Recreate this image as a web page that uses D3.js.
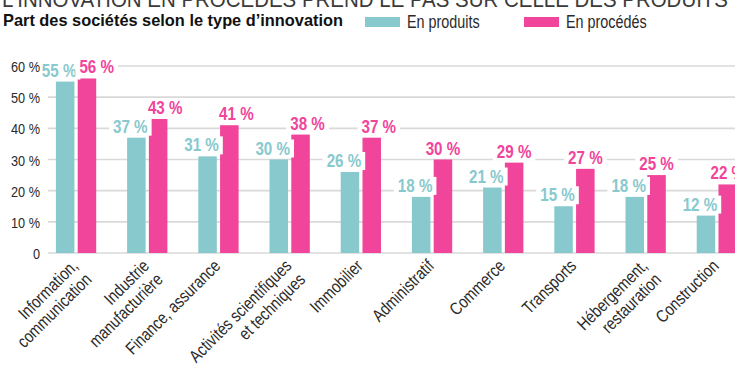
<!DOCTYPE html>
<html>
<head>
<meta charset="utf-8">
<script src="https://cdn.jsdelivr.net/npm/d3@7"></script>
<style>
  body { margin: 0; background: #fff; }
  svg { display: block; font-family: "Liberation Sans", Arial, sans-serif; }
</style>
</head>
<body>
<svg id="chart"></svg>
<script>
const categories = [
  ["Information,", "communication"],
  ["Industrie", "manufacturière"],
  ["Finance, assurance"],
  ["Activités scientifiques", "et techniques"],
  ["Immobilier"],
  ["Administratif"],
  ["Commerce"],
  ["Transports"],
  ["Hébergement,", "restauration"],
  ["Construction"]
];
const produits = [55, 37, 31, 30, 26, 18, 21, 15, 18, 12];
const procedes = [56, 43, 41, 38, 37, 30, 29, 27, 25, 22];
const yTicks = [0, 10, 20, 30, 40, 50, 60];
const seriesNames = ["En produits", "En procédés"];

const width = 735;
const height = 372;
const teal = '#88c9ce';
const pink = '#f1449b';

const svg = d3.select('#chart')
  .attr('width', width)
  .attr('height', height);

// pas de police étroite installée : on resserre le texte à la main
function condense(sel, k = 0.82) {
  sel.each(function () {
    const len = this.getComputedTextLength();
    d3.select(this)
      .attr('textLength', len * k)
      .attr('lengthAdjust', 'spacingAndGlyphs');
  });
}

// titre coupé en haut
svg.append('text')
  .attr('x', 2)
  .attr('y', 7)
  .attr('font-size', 22)
  .attr('fill', '#3a3a3a')
  .attr('textLength', 726)
  .attr('lengthAdjust', 'spacingAndGlyphs')
  .text("L'INNOVATION EN PROCÉDÉS PREND LE PAS SUR CELLE DES PRODUITS");

svg.append('text')
  .attr('x', 3)
  .attr('y', 26)
  .attr('font-size', 17)
  .attr('font-weight', 'bold')
  .attr('fill', '#111')
  .attr('textLength', 340)
  .attr('lengthAdjust', 'spacingAndGlyphs')
  .text('Part des sociétés selon le type d’innovation');

// légende
const legendX = [365, 524];
seriesNames.forEach((name, i) => {
  svg.append('rect')
    .attr('x', legendX[i])
    .attr('y', 17)
    .attr('width', 35)
    .attr('height', 10)
    .attr('fill', i === 0 ? teal : pink);
  svg.append('text')
    .attr('x', legendX[i] + 42)
    .attr('y', 27.5)
    .attr('font-size', 17.5)
    .attr('fill', '#2a2a2a')
    .text(name)
    .call(condense);
});

const yScale = d3.scaleLinear()
  .domain([0, 60])
  .range([253, 66]);

const xScale = d3.scaleBand()
  .domain(d3.range(categories.length))
  .range([40.4, 752.4]);

const inner = d3.scaleBand()
  .domain([0, 1])
  .range([15.5, 55.8])
  .paddingInner(0.15);

// grille
svg.append('g')
  .selectAll('line')
  .data(yTicks)
  .enter()
  .append('line')
  .attr('x1', 48)
  .attr('x2', width)
  .attr('y1', (d) => yScale(d))
  .attr('y2', (d) => yScale(d))
  .attr('stroke', '#d9d9d9')
  .attr('stroke-width', 1.6);

// barres
const groups = svg.selectAll('.group')
  .data(categories)
  .enter()
  .append('g')
  .attr('class', 'group')
  .attr('transform', (d, i) => `translate(${xScale(i)}, 0)`);

groups.append('rect')
  .attr('x', inner(0))
  .attr('y', (d, i) => yScale(produits[i]))
  .attr('width', inner.bandwidth())
  .attr('height', (d, i) => yScale(0) - yScale(produits[i]))
  .attr('fill', teal);

groups.append('rect')
  .attr('x', inner(1))
  .attr('y', (d, i) => yScale(procedes[i]))
  .attr('width', inner.bandwidth())
  .attr('height', (d, i) => yScale(0) - yScale(procedes[i]))
  .attr('fill', pink);

// étiquettes de valeurs, avec fond blanc
const labels = svg.append('g');
function addLabel(x, y, txt, color, anchor) {
  const g = labels.append('g');
  const bg = g.append('rect').attr('fill', '#fff');
  const t = g.append('text')
    .attr('x', x)
    .attr('y', y)
    .attr('text-anchor', anchor)
    .attr('font-size', 18.5)
    .attr('font-weight', 'bold')
    .attr('fill', color)
    .text(txt)
    .call(condense);
  const b = t.node().getBBox();
  bg.attr('x', b.x - 4).attr('y', b.y + 2).attr('width', b.width + 8).attr('height', b.height - 3);
}

categories.forEach((c, i) => {
  const x0 = xScale(i);
  const tealRight = x0 + inner(0) + inner.bandwidth();
  addLabel(tealRight + 2, yScale(produits[i]) - 5, produits[i] + ' %', teal, 'end');
  const pinkLeft = x0 + inner(1);
  const gap = procedes[i] - produits[i];
  // décalage à droite quand les deux étiquettes sont proches
  if (produits[i] >= 25 && gap < 12) {
    const start = gap < 4 ? tealRight + 5 : pinkLeft - 1;
    addLabel(start, yScale(procedes[i]) - 5, procedes[i] + ' %', pink, 'start');
  } else {
    addLabel(pinkLeft + inner.bandwidth() / 2, yScale(procedes[i]) - 5, procedes[i] + ' %', pink, 'middle');
  }
});

// axe vertical, au-dessus des fonds blancs
const yAxis = d3.axisLeft(yScale)
  .tickValues(yTicks)
  .tickSize(0)
  .tickPadding(0)
  .tickFormat((d) => d === 0 ? '0' : d + ' %');

const yG = svg.append('g')
  .attr('transform', 'translate(40, 0)')
  .call(yAxis)
  .attr('font-family', null)
  .attr('font-size', null);
yG.select('.domain').remove();
yG.selectAll('text')
  .attr('font-size', 15.5)
  .attr('fill', '#2a2a2a')
  .attr('dy', '0.36em')
  .call(condense);

// libellés des catégories
categories.forEach((lines, i) => {
  const cx = xScale(i) + xScale.bandwidth() / 2 + 3;
  const t = svg.append('text')
    .attr('transform', `translate(${cx}, 267) rotate(-45)`)
    .attr('text-anchor', 'end')
    .attr('font-size', 17.5)
    .attr('fill', '#2a2a2a');
  lines.forEach((line, j) => {
    t.append('tspan')
      .attr('x', 0)
      .attr('dy', j === 0 ? 0 : '1.1em')
      .text(line)
      .call(condense);
  });
});
</script>
</body>
</html>
